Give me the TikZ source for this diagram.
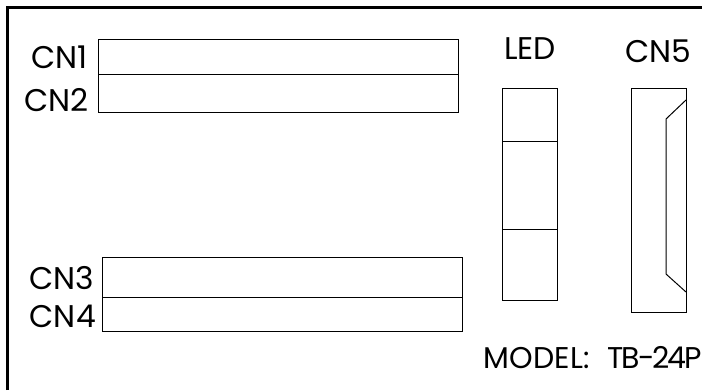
\documentclass[tikz,border=0pt]{standalone}
\usepackage{fontspec}
\setmainfont{Poppins}
\tikzset{
  cell/.style={shape=rectangle,draw=black,line width=0.75pt,inner sep=0pt,outer sep=0pt},
  lbl/.style={inner sep=0pt,font=\fontsize{23.5}{24}\selectfont},
}
\begin{document}
\begin{tikzpicture}[x=0.75pt,y=-0.75pt]
\useasboundingbox (0,0) rectangle (702,390);

\coordinate (tl) at (7.5,7.5);
\coordinate (tr) at (702,7.5);
\coordinate (bl) at (7.5,390);
\draw[line width=2.25pt] (bl) -- (tl) -- (tr);

\node[cell,minimum width=270pt,minimum height=26.25pt] (cn1) at (278,56.5) {};
\node[cell,minimum width=270pt,minimum height=28.5pt] (cn2) at (278,93) {};
\node[cell,minimum width=270pt,minimum height=30pt] (cn3) at (282.5,277) {};
\node[cell,minimum width=270pt,minimum height=25.5pt] (cn4) at (282.5,314) {};

\node[cell,minimum width=41.25pt,minimum height=39.75pt] (led1) at (529.5,114.5) {};
\node[cell,minimum width=41.25pt,minimum height=66pt] (led2) at (529.5,185) {};
\node[cell,minimum width=41.25pt,minimum height=53.25pt] (led3) at (529.5,264.5) {};

\node[cell,minimum width=41.25pt,minimum height=168pt] (cn5) at (658.5,200) {};
\coordinate (p1) at (686,100);
\coordinate (p2) at (666,119);
\coordinate (p3) at (666,274);
\coordinate (p4) at (686,292);
\draw[line width=0.75pt] (p1) -- (p2) -- (p3) -- (p4);

\node[lbl,anchor=base east] (t1) at (88,68) {CN1};
\node[lbl,anchor=base east] (t2) at (89,111) {CN2};
\node[lbl,anchor=base east] (t3) at (94,289) {CN3};
\node[lbl,anchor=base east] (t4) at (96,327) {CN4};
\node[lbl,anchor=base] (t5) at (530,59) {LED};
\node[lbl,anchor=base] (t6) at (658,62) {CN5};
\node[lbl,anchor=base east,font=\fontsize{22.5}{24}\selectfont] (t7) at (702,368) {{\addfontfeature{LetterSpace=1}MODEL:}\hspace{13pt}{\addfontfeature{LetterSpace=-7}TB-24P}};
\end{tikzpicture}
\end{document}
